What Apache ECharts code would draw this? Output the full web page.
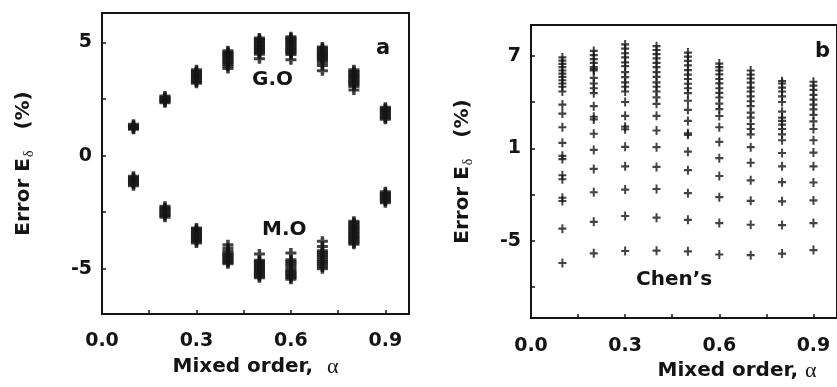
<!DOCTYPE html>
<html>
<head>
<meta charset="utf-8">
<script src="https://cdn.jsdelivr.net/npm/echarts@6/dist/echarts.min.js"></script>
<style>
  html, body { margin: 0; padding: 0; background: #fff; }
  #chart { width: 837px; height: 387px; }
</style>
</head>
<body>
<div id="chart"></div>
<script>
// Mixed-order values on the x axis
const alphas = [0.1, 0.2, 0.3, 0.4, 0.5, 0.6, 0.7, 0.8, 0.9];

// Panel a: G.O errors (%) for each alpha
const goErr = [
  [1.38, 1.33, 1.28, 1.24, 1.2, 1.16],
  [2.63, 2.58, 2.53, 2.48, 2.43, 2.38, 2.33],
  [3.79, 3.73, 3.67, 3.61, 3.55, 3.49, 3.43, 3.37, 3.31, 3.25, 3.2],
  [4.63, 4.57, 4.51, 4.45, 4.39, 4.33, 4.27, 4.21, 4.15, 4.09, 4.02, 3.95, 3.85],
  [5.2, 5.14, 5.08, 5.02, 4.96, 4.9, 4.84, 4.78, 4.72, 4.66, 4.6, 4.54, 4.48, 4.28],
  [5.25, 5.19, 5.13, 5.07, 5.01, 4.95, 4.89, 4.83, 4.77, 4.71, 4.65, 4.59, 4.53, 4.47, 4.23],
  [4.8, 4.74, 4.68, 4.62, 4.56, 4.5, 4.44, 4.38, 4.32, 4.26, 4.2, 4.1, 3.98, 3.75],
  [3.79, 3.73, 3.67, 3.61, 3.55, 3.49, 3.43, 3.37, 3.31, 3.25, 3.19, 3.13, 3.05, 2.9],
  [2.14, 2.08, 2.02, 1.96, 1.9, 1.84, 1.78, 1.72, 1.66, 1.6]
];

// Panel a: M.O errors (%) for each alpha
const moErr = [
  [-0.91, -0.97, -1.03, -1.09, -1.15, -1.21, -1.27, -1.33],
  [-2.24, -2.3, -2.36, -2.42, -2.48, -2.54, -2.6, -2.66, -2.72],
  [-3.2, -3.26, -3.32, -3.38, -3.44, -3.5, -3.56, -3.62, -3.68, -3.74, -3.8, -3.86],
  [-3.94, -4.08, -4.2, -4.3, -4.36, -4.42, -4.48, -4.54, -4.6, -4.66, -4.72, -4.78],
  [-4.35, -4.62, -4.68, -4.74, -4.8, -4.86, -4.92, -4.98, -5.04, -5.1, -5.16, -5.22, -5.28, -5.34, -5.4],
  [-4.3, -4.6, -4.68, -4.76, -4.84, -4.92, -5.02, -5.1, -5.16, -5.22, -5.28, -5.34, -5.4, -5.46],
  [-3.79, -4.02, -4.2, -4.28, -4.36, -4.44, -4.52, -4.6, -4.68, -4.76, -4.84, -4.92, -5.0],
  [-2.9, -2.96, -3.02, -3.08, -3.14, -3.2, -3.26, -3.32, -3.38, -3.44, -3.5, -3.56, -3.62, -3.68, -3.74, -3.8, -3.86, -3.92],
  [-1.6, -1.66, -1.72, -1.78, -1.84, -1.9, -1.96, -2.02, -2.08]
];

// Panel b: Chen's errors (%) for each alpha
const chenErr = [
  [6.9, 6.69, 6.48, 6.27, 6.05, 5.85, 5.64, 5.42, 5.21, 5.0, 4.69, 3.84, 3.26, 2.37, 1.36, 0.52, 0.31, -0.74, -1.0, -2.2, -2.41, -4.2, -6.43],
  [7.32, 7.05, 6.79, 6.54, 6.27, 6.15, 6.05, 5.57, 5.21, 4.9, 4.58, 3.74, 3.05, 2.88, 1.95, 0.9, -0.33, -1.84, -3.76, -5.8],
  [7.74, 7.47, 7.17, 6.9, 6.58, 6.33, 5.95, 5.62, 5.28, 5.0, 4.69, 4.01, 3.11, 2.41, 2.24, 1.1, -0.16, -1.67, -3.38, -5.65],
  [7.63, 7.38, 7.11, 6.84, 6.54, 6.27, 5.95, 5.64, 5.28, 5.0, 4.69, 4.31, 3.89, 3.11, 2.16, 1.08, -0.2, -1.63, -3.49, -5.63],
  [7.21, 6.95, 6.67, 6.38, 6.07, 5.78, 5.5, 5.19, 4.9, 4.58, 4.09, 3.5, 2.78, 1.98, 1.88, 0.79, -0.41, -1.9, -3.63, -5.67],
  [6.5, 6.27, 6.05, 5.8, 5.5, 5.22, 4.9, 4.6, 4.3, 3.9, 3.55, 3.1, 2.37, 1.42, 0.37, -0.79, -2.16, -3.84, -5.88],
  [6.05, 5.78, 5.53, 5.26, 4.94, 4.69, 4.37, 4.06, 3.74, 3.32, 3.0, 2.58, 2.26, 1.91, 1.08, 0.07, -1.07, -2.4, -3.95, -5.92],
  [5.36, 5.21, 4.94, 4.69, 4.37, 4.01, 3.38, 3.0, 2.79, 2.54, 2.26, 1.91, 1.53, 0.7, -0.16, -1.19, -2.43, -3.97, -5.82],
  [5.32, 5.07, 4.79, 4.47, 4.16, 3.84, 3.53, 3.17, 2.75, 2.26, 1.53, 0.73, -0.16, -1.21, -2.37, -3.84, -5.59]
];

// Tick positions and labels
const xLabelTicks = [0, 0.3, 0.6, 0.9];
const xMinorTicks = [0.15, 0.3, 0.45, 0.6, 0.75, 0.9];
const yLabelTicksA = [-5, 0, 5];
const yMinorTicksA = [-5, -2.5, 0, 2.5, 5];
const yLabelTicksB = [-5, 1, 7];
const yMinorTicksB = [-8, -5, -2, 1, 4, 7];

function toPoints(columns) {
  const pts = [];
  columns.forEach((vals, i) => vals.forEach(v => pts.push([alphas[i], v])));
  return pts;
}

const INK = '#141414';
const SANS = '"DejaVu Sans", "Liberation Sans", Arial, sans-serif';
const plusBold = 'path://M3.4,0H6.6V3.5H10V6.5H6.6V10H3.4V6.5H0V3.5H3.4Z';
const plusThin = 'path://M3.75,0H6.25V3.8H10V6.2H6.25V10H3.75V6.2H0V3.8H3.75Z';

function xAxisFor(gridIndex, nameGap, namePad) {
  return {
    type: 'value', gridIndex, min: 0, max: 0.975,
    splitLine: { show: false },
    axisLine: { show: true, onZero: false, lineStyle: { color: INK, width: 2 } },
    axisTick: { show: true, inside: true, length: 4, customValues: xMinorTicks,
      lineStyle: { color: INK, width: 1.5 } },
    axisLabel: { customValues: xLabelTicks, margin: 18, color: INK,
      fontFamily: SANS, fontWeight: 'bold', fontSize: 19,
      formatter: v => v.toFixed(1) },
    name: '{b|Mixed order,' + (gridIndex === 0 ? '  ' : ' ') + '}{g|α}',
    nameLocation: 'middle', nameGap,
    nameTextStyle: {
      padding: namePad,
      rich: {
        b: { fontFamily: SANS, fontWeight: 'bold', fontSize: 20, color: INK },
        g: { fontFamily: '"Liberation Serif", "DejaVu Serif", serif', fontSize: 22, color: INK }
      }
    }
  };
}

function yAxisFor(gridIndex, min, max, labels, ticks, nameGap) {
  return {
    type: 'value', gridIndex, min, max,
    splitLine: { show: false },
    axisLine: { show: true, onZero: false, lineStyle: { color: INK, width: 2 } },
    axisTick: { show: true, inside: true, length: 4, customValues: ticks,
      lineStyle: { color: INK, width: 1.5 } },
    axisLabel: { customValues: labels, margin: 10, color: INK,
      fontFamily: SANS, fontWeight: 'bold', fontSize: 19 },
    name: '{b|Error E}{s|δ}{b|   (%)}',
    nameLocation: 'middle', nameGap, nameRotate: 90,
    nameTextStyle: {
      rich: {
        b: { fontFamily: SANS, fontWeight: 'bold', fontSize: 20, color: INK, height: 24 },
        s: { fontFamily: '"Liberation Serif", "DejaVu Serif", serif', fontSize: 14, color: INK,
             height: 24, padding: [10, 0, 0, 1] }
      }
    }
  };
}

function labelText(text, left, top, size) {
  return {
    type: 'text', left, top,
    style: { text, fill: INK, font: 'bold ' + size + 'px ' + SANS }
  };
}

const chart = echarts.init(document.getElementById('chart'), null, { renderer: 'canvas' });
chart.setOption({
  animation: false,
  backgroundColor: '#ffffff',
  grid: [
    { left: 102, top: 13, width: 307, height: 301, show: true, borderColor: INK, borderWidth: 2 },
    { left: 531, top: 25, width: 307, height: 301, show: true, borderColor: INK, borderWidth: 2 }
  ],
  xAxis: [xAxisFor(0, 42, [0, 0, 0, 0]), xAxisFor(1, 38, [0, 0, 0, 106])],
  yAxis: [
    yAxisFor(0, -7, 6.3, yLabelTicksA, yMinorTicksA, 61),
    yAxisFor(1, -10, 9, yLabelTicksB, yMinorTicksB, 51)
  ],
  series: [
    { name: 'G.O', type: 'scatter', xAxisIndex: 0, yAxisIndex: 0, data: toPoints(goErr),
      symbol: plusBold, symbolSize: [11, 10], itemStyle: { color: INK } },
    { name: 'M.O', type: 'scatter', xAxisIndex: 0, yAxisIndex: 0, data: toPoints(moErr),
      symbol: plusBold, symbolSize: [11, 10], itemStyle: { color: INK } },
    { name: "Chen's", type: 'scatter', xAxisIndex: 1, yAxisIndex: 1, data: toPoints(chenErr),
      symbol: plusThin, symbolSize: [8, 9], itemStyle: { color: INK } }
  ],
  graphic: [
    labelText('a', 376, 38, 21),
    labelText('G.O', 252, 70, 20),
    labelText('M.O', 262, 220, 20),
    labelText('b', 815, 41, 21),
    labelText('Chen’s', 636, 270, 20)
  ]
});
</script>
</body>
</html>
